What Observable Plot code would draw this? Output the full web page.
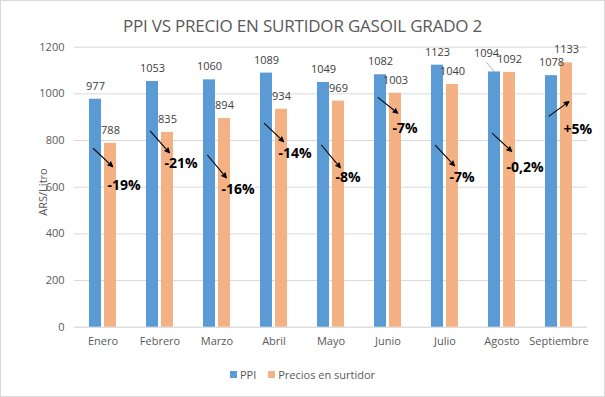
<!DOCTYPE html>
<html>
<head>
<meta charset="utf-8">
<script src="https://cdn.jsdelivr.net/npm/d3@7"></script>
<script src="https://cdn.jsdelivr.net/npm/@observablehq/plot@0.6"></script>
<style>
  html, body { margin: 0; padding: 0; background: #fff; }
  #wrap { position: relative; width: 605px; height: 397px; overflow: hidden; font-family: "Open Sans", sans-serif; }
  #border { position: absolute; left: 0; top: 0; width: 603px; height: 395px; border: 1px solid #d9d9d9; pointer-events: none; }
  #title { position: absolute; left: 0; top: 14px; width: 605px; text-align: center; font-size: 17px; color: #595959; letter-spacing: -0.2px; }
  #ylabel { position: absolute; left: 42px; top: 192px; transform: translate(-50%, -50%) rotate(-90deg); font-size: 11px; color: #595959; white-space: nowrap; }
  #legend { position: absolute; left: 0; top: 367px; width: 605px; display: flex; justify-content: center; align-items: center; font-size: 11px; color: #595959; }
  #legend .sw { display: inline-block; width: 7px; height: 7px; margin-right: 3px; }
  #legend .item { display: flex; align-items: center; margin: 0 6px; }
  #chart { position: absolute; left: 0; top: 0; }
</style>
</head>
<body>
<div id="wrap">
  <div id="chart"></div>
  <div id="title">PPI VS PRECIO EN SURTIDOR GASOIL GRADO 2</div>
  <div id="ylabel">ARS/Litro</div>
  <div id="legend"></div>
  <div id="border"></div>
</div>
<script>
const months = ["Enero","Febrero","Marzo","Abril","Mayo","Junio","Julio","Agosto","Septiembre"];
const seriesNames = ["PPI","Precios en surtidor"];
const ppi = [977,1053,1060,1089,1049,1082,1123,1094,1078];
const surtidor = [788,835,894,934,969,1003,1040,1092,1133];
const pctLabels = ["-19%","-21%","-16%","-14%","-8%","-7%","-7%","-0,2%","+5%"];
const arrowFrom = [757,830,727,865,770,976,770,822,912];
const arrowTo = [697,757,650,804,693,925,701,762,959];
const pctY = [607,701,590,744,642,851,642,685,847];
const yTicks = [0,200,400,600,800,1000,1200];
const colors = ["#5b9bd5","#f4b183"];

const bars = months.flatMap((m, i) => [
  {month: m, series: seriesNames[0], value: ppi[i]},
  {month: m, series: seriesNames[1], value: surtidor[i]}
]);
const normalLabels = bars.filter(d => !(d.month === "Agosto" && d.series === "PPI"));
const shiftedLabels = bars.filter(d => d.month === "Agosto" && d.series === "PPI");
const notes = months.map((m, i) => ({month: m, from: arrowFrom[i], to: arrowTo[i], label: pctLabels[i], ly: pctY[i]}));

const plot = Plot.plot({
  width: 605,
  height: 397,
  marginLeft: 73,
  marginRight: 18,
  marginTop: 46.7,
  marginBottom: 70.3,
  style: {background: "transparent", fontFamily: "Open Sans, sans-serif", overflow: "visible"},
  fx: {domain: months, padding: 0, label: null, axis: null},
  x: {domain: seriesNames, paddingInner: 0.19, paddingOuter: 0.878, axis: null},
  y: {domain: [0, 1200], ticks: yTicks, label: null, axis: null},
  color: {domain: seriesNames, range: colors},
  marks: [
    Plot.ruleY(yTicks.filter(t => t > 0), {stroke: "#d9d9d9", strokeWidth: 1}),
    Plot.ruleY([0], {stroke: "#d0d0d0", strokeWidth: 1}),
    Plot.axisY({ticks: yTicks, tickFormat: d => String(d), tickSize: 0, tickPadding: 10, fill: "#595959", fontSize: 11, label: null}),
    Plot.axisFx({anchor: "bottom", tickSize: 0, tickPadding: 10, fill: "#595959", fontSize: 11, label: null}),
    Plot.barY(bars, {fx: "month", x: "series", y: "value", fill: "series"}),
    Plot.text(normalLabels, {fx: "month", x: "series", y: "value", text: d => String(d.value), dy: -13, fill: "#404040", fontSize: 11}),
    Plot.text(shiftedLabels, {fx: "month", x: "series", y: "value", text: d => String(d.value), dx: -8, dy: -18, fill: "#404040", fontSize: 11}),
    Plot.vector(shiftedLabels, {fx: "month", x: "series", y: "value", length: 12, rotate: -40, anchor: "start", stroke: "#a6a6a6", strokeWidth: 0.8,
      shape: {draw(context, l) { context.moveTo(0, 0); context.lineTo(0, -l); }}}),
    Plot.arrow(notes, {fx: "month", x1: () => seriesNames[0], x2: () => seriesNames[1], y1: "from", y2: "to",
      stroke: "#000", fill: "#000", strokeWidth: 1.1, headLength: 7, headAngle: 50, insetStart: -3, insetEnd: -3}),
    Plot.text(notes, {fx: "month", x: () => seriesNames[1], y: "ly", text: "label", textAnchor: "start", dx: -3,
      fill: "#000", fontWeight: "bold", fontSize: 14})
  ]
});
document.getElementById("chart").appendChild(plot);

const legend = document.getElementById("legend");
seriesNames.forEach((s, i) => {
  const item = document.createElement("span");
  item.className = "item";
  const sw = document.createElement("span");
  sw.className = "sw";
  sw.style.background = colors[i];
  item.appendChild(sw);
  item.appendChild(document.createTextNode(s));
  legend.appendChild(item);
});
</script>
</body>
</html>
